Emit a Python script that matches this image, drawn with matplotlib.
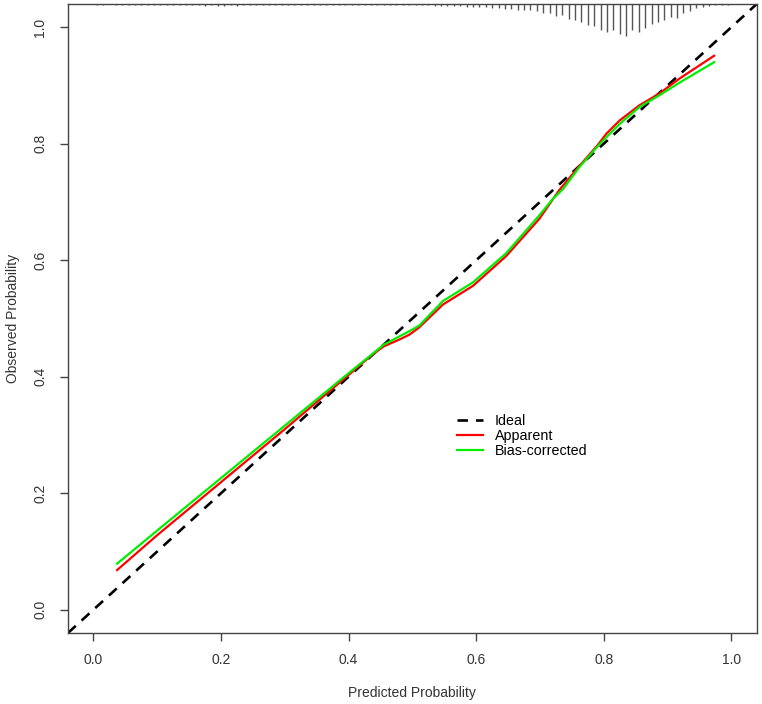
import numpy as np
import matplotlib
matplotlib.use("Agg")
import matplotlib.pyplot as plt

plt.rcParams['font.family'] = ['Liberation Sans', 'DejaVu Sans']

# Apparent calibration curve
app_x = [0.037, 0.1, 0.2, 0.3, 0.4, 0.435, 0.455, 0.48, 0.495, 0.51, 0.548, 0.595,
         0.647, 0.699, 0.73, 0.762, 0.79, 0.804, 0.825, 0.856, 0.887, 0.919, 0.973]
app_y = [0.068, 0.128, 0.219, 0.310, 0.403, 0.436, 0.452, 0.464, 0.472, 0.484, 0.524, 0.556,
         0.607, 0.671, 0.720, 0.762, 0.797, 0.817, 0.840, 0.866, 0.886, 0.912, 0.951]

# Bias-corrected calibration curve
bc_x = [0.037, 0.1, 0.2, 0.3, 0.4, 0.435, 0.455, 0.495, 0.511, 0.548, 0.595, 0.647,
        0.699, 0.72, 0.736, 0.762, 0.79, 0.804, 0.825, 0.856, 0.887, 0.919, 0.973]
bc_y = [0.079, 0.136, 0.226, 0.316, 0.406, 0.437, 0.455, 0.478, 0.488, 0.530, 0.562, 0.612,
        0.677, 0.705, 0.722, 0.760, 0.795, 0.811, 0.834, 0.863, 0.883, 0.905, 0.940]

# Distribution of predicted probabilities (top rug), bins of width 0.01
rug_x = np.round(np.arange(0.005, 1.0, 0.01), 3)
rug_n = [1, 1, 0, 1, 1, 1, 1, 1, 1, 1.5,
         1, 1.5, 1.5, 1.5, 1.5, 1.5, 1.5, 2, 1.5, 2.5,
         2.5, 1.5, 2.5, 1, 1.5, 1.5, 1.5, 1.5, 1.5, 1.5,
         1, 1.5, 1, 1.5, 1.5, 1.5, 1.5, 1.5, 1, 1,
         1, 1, 1.5, 1.5, 1, 1.5, 1.5, 1.5, 1.5, 1.5,
         1.5, 1.5, 1.5, 2, 2, 2, 2, 2.5, 3, 3,
         3.5, 3.5, 4, 4, 5, 5, 6, 6.5, 6.5, 7.5,
         9, 9, 12, 11, 15, 16.5, 18, 21.5, 22, 26.5,
         28, 26, 30, 32, 26, 28, 24, 20.5, 18, 16,
         13.5, 14, 9, 7.5, 4.5, 3, 2.5, 1.5, 1, 1]

fig = plt.figure(figsize=(7.62, 7.04), dpi=100)
ax = fig.add_axes([0.0892, 0.1009, 0.904, 0.8935])
ax.set_xlim(-0.04, 1.04)
ax.set_ylim(-0.04, 1.04)

# ideal line
lims = [-0.04, 1.04]
ax.plot(lims, lims, color='black', lw=1.9, dashes=(4, 3), label='Ideal')
ax.plot(app_x, app_y, color='#ff0000', lw=1.6, label='Apparent')
ax.plot(bc_x, bc_y, color='#00ee00', lw=1.6, label='Bias-corrected')

# rug of predicted values hanging from the top border
top = ax.get_ylim()[1]
rug_len = np.array(rug_n) / max(rug_n) * 0.055
keep = rug_len > 0
ax.vlines(rug_x[keep], top - rug_len[keep], top, color='#555555', lw=1.0)

ticks = [0.0, 0.2, 0.4, 0.6, 0.8, 1.0]
ax.set_xticks(ticks)
ax.set_yticks(ticks)
ax.set_xticklabels(['0.0', '0.2', '0.4', '0.6', '0.8', '1.0'], fontsize=10, color='#333333')
ax.set_yticklabels(['0.0', '0.2', '0.4', '0.6', '0.8', '1.0'], fontsize=10, color='#333333',
                   rotation=90, va='center')
ax.tick_params(direction='out', length=5.8, width=1, color='#444444')
ax.tick_params(axis='x', pad=8.5)
ax.tick_params(axis='y', pad=9)
for s in ax.spines.values():
    s.set_color('#444444')
    s.set_linewidth(1)

ax.set_xlabel('Predicted Probability', fontsize=10, color='#333333', labelpad=14)
ax.set_ylabel('Observed Probability', fontsize=10, color='#333333', labelpad=10)

ax.legend(loc='center left', bbox_to_anchor=(0.565, 0.313), frameon=False, fontsize=10.3,
          handlelength=1.8, handletextpad=0.85, labelspacing=0.05, borderaxespad=0,
          borderpad=0)

fig.savefig('out.png', dpi=100)
